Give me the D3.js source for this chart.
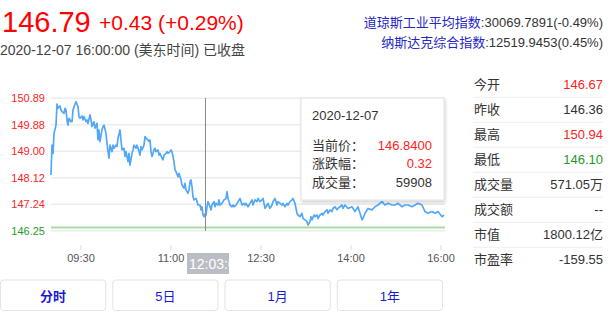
<!DOCTYPE html>
<html><head><meta charset="utf-8">
<script src="https://cdn.jsdelivr.net/npm/d3@7"></script>
<style>
html,body{margin:0;padding:0;background:#fff;}
svg{display:block;font-family:"Liberation Sans",Arial,"Noto Sans CJK SC",sans-serif;}
</style></head><body>
<svg id="c" width="613" height="313"></svg>
<script>
// ---- data ----
const times = [0,1,2,3,5,6,7,9,10,11,13,14,15,16,17,18,20,21,22,24,25,27,28,29,31,32,33,35,36,37,39,40,41,43,44,46,47,48,49,51,52,53,55,56,57,58,59,61,62,63,65,66,67,69,70,71,73,74,75,77,78,79,81,82,83,85,86,87,89,90,91,93,94,95,97,98,99,
100,101,103,104,105,107,108,109,111,112,113,115,116,117,119,120,121,123,124,125,127,128,130,131,133,134,135,137,138,139,140,141,142,143,145,146,147,149,150,151,152,153,154,155,156,157,159,160,161,163,164,165,167,168,169,171,172,173,175,176,177,178,179,181,182,183,185,186,187,189,190,191,193,194,195,197,198,
199,201,202,204,206,207,209,211,212,214,216,217,219,221,222,224,226,227,229,231,232,234,236,237,239,241,242,244,246,247,249,251,252,254,256,257,259,260,261,263,264,266,267,269,271,272,274,276,277,279,281,282,284,286,287,289,291,292,294,
297,301,304,307,311,312,314,317,321,324,327,331,334,337,341,344,347,351,354,357,361,364,367,371,374,377,381,384,387,391,393];
const prices = [148.20,149.25,148.96,149.66,149.95,150.69,150.54,150.62,150.48,150.42,150.36,150.54,150.48,150.13,149.95,150.19,150.07,150.07,150.48,150.69,150.77,150.60,150.25,150.19,150.27,150.13,150.25,150.07,150.13,150.01,150.31,150.13,149.90,150.07,149.84,150.01,149.43,149.78,149.37,149.78,149.90,149.95,149.66,149.31,149.02,148.79,149.25,149.02,149.25,149.14,149.25,149.20,149.49,149.78,149.43,149.08,149.14,148.85,149.02,148.67,148.96,148.55,148.96,149.08,149.25,149.14,149.25,149.14,148.90,149.20,149.08,149.25,149.55,149.49,149.43,149.37,149.43,
149.02,148.85,149.08,149.14,149.02,149.08,148.90,148.96,148.79,148.73,148.90,148.96,149.02,148.96,149.02,149.08,149.02,148.67,148.38,148.32,148.14,148.26,148.03,147.85,147.74,147.91,147.68,147.56,147.68,147.97,148.03,147.79,147.44,147.33,147.38,147.27,147.15,147.15,146.98,147.09,146.80,146.74,146.84,146.80,147.09,147.27,147.09,146.98,147.15,147.27,147.09,147.21,147.15,147.33,147.15,147.21,147.27,147.33,147.38,147.62,147.38,147.27,147.15,147.09,147.15,147.09,147.15,147.21,147.27,147.38,147.27,147.15,147.21,147.15,147.21,147.09,147.15,
147.21,147.33,147.15,147.33,147.27,147.38,147.27,147.33,147.38,147.03,147.15,147.21,147.03,147.15,147.27,147.38,147.15,147.27,147.21,147.15,147.21,147.09,147.21,147.15,147.27,147.33,147.38,147.21,146.86,146.80,146.74,146.86,146.68,146.63,146.57,146.45,146.57,146.74,146.63,146.80,146.74,146.80,146.68,146.80,146.86,146.80,146.92,146.98,146.86,146.98,146.92,147.03,147.09,146.98,147.03,147.09,147.15,147.03,147.15,
147.03,147.09,146.92,147.09,146.63,146.68,146.86,147.03,146.98,147.09,147.15,147.27,147.15,147.21,147.15,147.15,147.21,147.09,147.15,147.15,147.09,147.15,147.21,147.15,146.92,146.86,146.92,146.86,146.92,146.74,146.80];
const yTickLabels = ["146.25","147.24","148.12","149.00","149.88","150.89"];
const xTickMinutes = [30,120,210,300,390];
const xTickLabels = ["09:30","11:00","12:30","14:00","16:00"];
const sessionMinutes = 393;
const prevClose = 146.36;
const lastPrice = "146.79", changeText = "+0.43 (+0.29%)";
const statusText = "2020-12-07 16:00:00 (美东时间) 已收盘";
const indexNames = ["道琼斯工业平均指数","纳斯达克综合指数"];
const indexValues = [":30069.7891(-0.49%)",":12519.9453(0.45%)"];
const statLabels = ["今开","昨收","最高","最低","成交量","成交额","市值","市盈率"];
const statValues = ["146.67","146.36","150.94","146.10","571.05万","--","1800.12亿","-159.55"];
const crossMinute = 154, crossLabel = "12:03:00";
const tipDate = "2020-12-07";
const tipLabels = ["当前价：","涨跌幅：","成交量："];
const tipValues = ["146.8400","0.32","59908"];
const buttons = ["分时","5日","1月","1年"];

// ---- drawing ----
const RED = "#ff2222", GREEN = "#1f9a2a", DARK = "#333";
const svg = d3.select("#c");
const defs = svg.append("defs");
const f = defs.append("filter").attr("id","sh").attr("x","-10%").attr("y","-10%").attr("width","125%").attr("height","130%");
f.append("feDropShadow").attr("dx",1).attr("dy",2).attr("stdDeviation",1.5).attr("flood-color","#000").attr("flood-opacity",0.18);
defs.append("clipPath").attr("id","tl").append("rect").attr("x",187).attr("y",253).attr("width",42).attr("height",21);

// header
svg.append("text").attr("x",2).attr("y",31.5).attr("font-size",29).attr("fill","#ff0000").text(lastPrice);
svg.append("text").attr("x",99).attr("y",30).attr("font-size",21).attr("fill","#ff0000").text(changeText);
svg.append("text").attr("x",0).attr("y",55).attr("font-size",14).attr("fill","#444").text(statusText);
indexNames.forEach((n,i)=>{
  const t = svg.append("text").attr("x",603).attr("y",26.5+i*20).attr("font-size",13).attr("text-anchor","end");
  t.append("tspan").attr("fill","#2525c8").text(n);
  t.append("tspan").attr("fill",DARK).text(indexValues[i]);
});

// scales
const yMin = +yTickLabels[0], yMax = +yTickLabels[yTickLabels.length-1];
const x = d3.scaleLinear().domain([0,sessionMinutes]).range([51,444]);
const y = d3.scaleLinear().domain([yMin,yMax]).range([230.7,98.3]);
const yTickVals = yTickLabels.map((_,i)=> yMin + i*(yMax-yMin)/(yTickLabels.length-1));

// grid
svg.append("g").selectAll("line").data(yTickVals).join("line")
  .attr("x1",51).attr("x2",445).attr("y1",d=>y(d)).attr("y2",d=>y(d))
  .attr("stroke","#ececec").attr("stroke-width",1.5);
// y labels
svg.append("g").selectAll("text").data(yTickVals).join("text")
  .attr("x",45).attr("y",d=>y(d)+4).attr("text-anchor","end").attr("font-size",11)
  .attr("fill",(d,i)=> i===0 ? GREEN : RED).text((d,i)=>yTickLabels[i]);
// x ticks + labels
const xg = svg.append("g");
xg.selectAll("line").data(xTickMinutes).join("line")
  .attr("x1",d=>x(d)).attr("x2",d=>x(d)).attr("y1",245).attr("y2",250).attr("stroke","#ddd");
xg.selectAll("text").data(xTickMinutes).join("text")
  .attr("x",d=>x(d)).attr("y",261.5).attr("text-anchor","middle").attr("font-size",11).attr("fill","#555")
  .text((d,i)=>xTickLabels[i]);

// previous close line
svg.append("line").attr("x1",51).attr("x2",445).attr("y1",y(prevClose)).attr("y2",y(prevClose))
  .attr("stroke","#a9dca4").attr("stroke-width",2);

// price line
const pts = times.map((t,i)=>[t,prices[i]]);
svg.append("path").datum(pts)
  .attr("d", d3.line().x(d=>x(d[0])).y(d=>y(d[1])))
  .attr("fill","none").attr("stroke","#52a8f7").attr("stroke-width",1.7).attr("stroke-linejoin","round");

// crosshair
svg.append("line").attr("x1",x(crossMinute)+0.5).attr("x2",x(crossMinute)+0.5).attr("y1",98).attr("y2",231)
  .attr("stroke","#8a8a8a").attr("stroke-width",1);
svg.append("rect").attr("x",187).attr("y",253).attr("width",42).attr("height",21).attr("fill","#babdc4");
svg.append("text").attr("clip-path","url(#tl)").attr("x",189).attr("y",268.5).attr("font-size",14)
  .attr("fill","#fff").text(crossLabel);

// tooltip
const tg = svg.append("g");
tg.append("rect").attr("x",301).attr("y",98).attr("width",143).attr("height",102)
  .attr("fill","#fff").attr("stroke","#e2e2e2").attr("filter","url(#sh)");
tg.append("text").attr("x",312).attr("y",120).attr("font-size",13).attr("fill",DARK).text(tipDate);
tipLabels.forEach((l,i)=>{
  const by = 149.5 + i*18.7;
  tg.append("text").attr("x",312).attr("y",by).attr("font-size",13).attr("fill",DARK).text(l);
  tg.append("text").attr("x",432).attr("y",by).attr("font-size",13).attr("text-anchor","end")
    .attr("fill", i<2 ? RED : DARK).text(tipValues[i]);
});

// stats panel
const sg = svg.append("g");
statLabels.forEach((l,i)=>{
  const by = 88.5 + i*25.1;
  sg.append("text").attr("x",474).attr("y",by).attr("font-size",13).attr("fill",DARK).text(l);
  let col = DARK;
  if (i===0 || i===2 || i===3) { const v = +statValues[i]; col = v>prevClose ? RED : (v<prevClose ? GREEN : DARK); }
  sg.append("text").attr("x",603).attr("y",by).attr("font-size",13).attr("text-anchor","end").attr("fill",col).text(statValues[i]);
  if (i < statLabels.length-1)
    sg.append("line").attr("x1",473).attr("x2",603).attr("y1",97.3+i*25).attr("y2",97.3+i*25).attr("stroke","#eeeeee");
});

// buttons
const bx = d3.scaleBand().domain(buttons).range([0,443]).paddingInner(0.054);
const bg = svg.append("g").selectAll("g").data(buttons).join("g");
bg.append("rect").attr("x",d=>bx(d)+0.5).attr("y",280).attr("width",bx.bandwidth()-1).attr("height",30.5)
  .attr("rx",3).attr("fill","#fff").attr("stroke","#e3e3e3");
bg.append("text").attr("x",d=>bx(d)+bx.bandwidth()/2).attr("y",301).attr("text-anchor","middle")
  .attr("font-size",13).attr("fill","#1a1ad6").attr("font-weight",(d,i)=>i===0?"bold":"normal").text(d=>d);
</script>
</body></html>
